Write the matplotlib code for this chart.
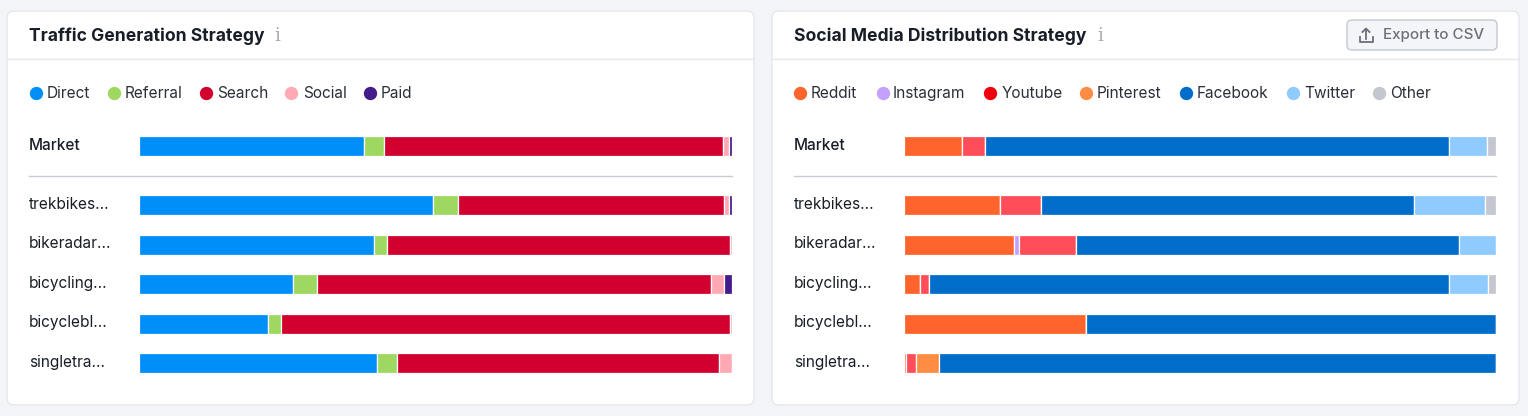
import matplotlib
matplotlib.use("Agg")
import matplotlib.pyplot as plt
from matplotlib.patches import FancyBboxPatch, Rectangle

plt.rcParams['font.family'] = ['Inter', 'DejaVu Sans']

W, H = 1528, 416
rows = ["Market", "trekbikes...", "bikeradar...", "bicycling...", "bicyclebl...", "singletra..."]

traffic_names = ["Direct", "Referral", "Search", "Social", "Paid"]
traffic_colors = ["#008FF8", "#9ED860", "#D1002F", "#FFA9B4", "#451A8B"]
direct = [37.9, 49.6, 39.6, 25.9, 21.7, 40.1]
referral = [3.5, 4.2, 2.3, 4.2, 2.2, 3.4]
search = [57.1, 44.9, 57.8, 66.4, 75.8, 54.4]
social = [1.0, 0.8, 0.3, 2.2, 0.3, 2.1]
paid = [0.5, 0.5, 0.0, 1.3, 0.0, 0.0]
traffic_values = [direct, referral, search, social, paid]

media_names = ["Reddit", "Instagram", "Youtube", "Pinterest", "Facebook", "Twitter", "Other"]
media_legend = ["#FF642D", "#C4A0FF", "#F0000F", "#FF8C43", "#006DCA", "#8FCBFF", "#C4C7CF"]
media_bars = ["#FF642D", "#C4A0FF", "#FF4D5A", "#FF8C43", "#006DCA", "#8FCBFF", "#C4C7CF"]
reddit = [9.8, 16.2, 18.7, 2.7, 30.7, 0.4]
instagram = [0.0, 0.0, 0.8, 0.0, 0.0, 0.0]
youtube = [3.9, 6.9, 9.5, 1.5, 0.0, 1.7]
pinterest = [0.0, 0.0, 0.0, 0.0, 0.0, 3.8]
facebook = [78.4, 63.0, 64.7, 87.8, 69.3, 94.1]
twitter = [6.4, 12.0, 6.3, 6.6, 0.0, 0.0]
other = [1.5, 1.9, 0.0, 1.4, 0.0, 0.0]
media_values = [reddit, instagram, youtube, pinterest, facebook, twitter, other]

fig = plt.figure(figsize=(W / 100, H / 100), dpi=100, facecolor="#F4F5F9")
bg = fig.add_axes([0, 0, 1, 1])
bg.set_xlim(0, W)
bg.set_ylim(H, 0)
bg.axis("off")

INK = "#181E27"
row_y = [146, 205, 244.5, 284, 323.5, 363]


def panel(x0, x1, title, info_x, names, legend_cols, bar_cols, values, dots, texts, bar_x, label_x):
    bg.add_patch(FancyBboxPatch((x0 + 7, 11 + 7), x1 - x0 - 14, 394 - 14,
                                boxstyle="round,pad=7,rounding_size=7",
                                fc="white", ec="#E6E8EE", lw=1))
    bg.plot([x0, x1], [59, 59], color="#E6E8EE", lw=1)
    bg.text(label_x, 36, title, fontsize=12.6, fontweight="bold", color=INK, va="center")
    bg.text(info_x, 36, "i", fontsize=13, family="DejaVu Serif",
            color="#A4ACB2", va="center", ha="center")
    for name, c, dx, tx in zip(names, legend_cols, dots, texts):
        bg.scatter([dx], [93], s=92, color=c, lw=0)
        bg.text(tx, 93.5, name, fontsize=11.1, color="#2A2F38", va="center")
    for i, (r, y) in enumerate(zip(rows, row_y)):
        bg.text(label_x, y - 0.5, r, fontsize=11.1, color=INK, va="center",
                fontweight="medium" if i == 0 else "normal")
    bg.plot([label_x, bar_x + 592.5], [175.5, 175.5], color="#C9CCD2", lw=1)

    ax = fig.add_axes([bar_x / W, 1 - 380 / H, 592.5 / W, 250 / H])
    ax.set_xlim(0, 100)
    ax.set_ylim(380, 130)
    ax.axis("off")
    left = [0.0] * len(rows)
    for vals, c in zip(values, bar_cols):
        ax.barh(row_y, vals, left=left, height=20, color=c, edgecolor="white", linewidth=0.9)
        left = [a + b for a, b in zip(left, vals)]


panel(7, 754, "Traffic Generation Strategy", 277, traffic_names, traffic_colors, traffic_colors,
      traffic_values, [36, 114, 205.5, 291, 370], [46.5, 125, 217, 303, 381], 139.1, 29)
panel(772, 1519, "Social Media Distribution Strategy", 1100, media_names, media_legend, media_bars,
      media_values, [800, 882.5, 990, 1085.5, 1185.5, 1293, 1379],
      [811, 893, 1002, 1097, 1197, 1304, 1390], 903.7, 794)

# Export button
bg.add_patch(FancyBboxPatch((1351, 24), 142, 22, boxstyle="round,pad=4,rounding_size=5",
                            fc="#F4F5F9", ec="#C4C7CF", lw=1))
bg.text(1383, 35.5, "Export to CSV", fontsize=10.9, color="#6C6E79", va="center", fontweight="medium")
icon = "#6C6E79"
bg.plot([1366, 1366], [28.5, 38.5], color=icon, lw=1.3)
bg.plot([1362.5, 1366, 1369.5], [32, 28.5, 32], color=icon, lw=1.3)
bg.plot([1359.5, 1359.5, 1372.5, 1372.5], [37, 41.5, 41.5, 37], color=icon, lw=1.3)

fig.savefig("out.png", dpi=100, facecolor=fig.get_facecolor())
